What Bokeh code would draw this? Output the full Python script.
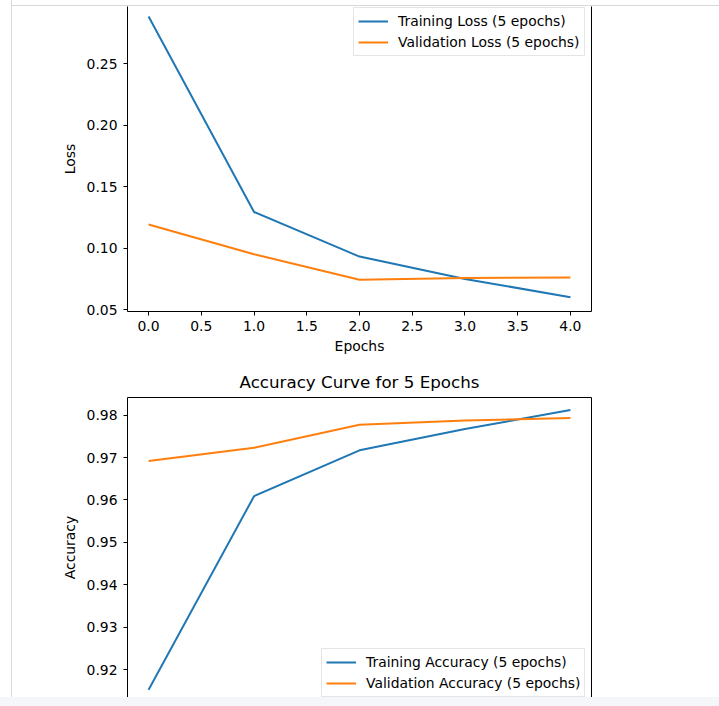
from bokeh.plotting import figure
from bokeh.models import LinearAxis, FixedTicker, PrintfTickFormatter, Legend, LegendItem, Range1d, Div
from bokeh.layouts import column, row
from bokeh.embed import file_html
from bokeh.resources import INLINE

epochs = [0, 1, 2, 3, 4]
train_loss = [0.2885, 0.1295, 0.0933, 0.0751, 0.0603]
val_loss = [0.1194, 0.0952, 0.0745, 0.0759, 0.0763]
train_acc = [0.9153, 0.9609, 0.9717, 0.9767, 0.9812]
val_acc = [0.9692, 0.9723, 0.9777, 0.9787, 0.9793]
x_ticks = [0.0, 0.5, 1.0, 1.5, 2.0, 2.5, 3.0, 3.5, 4.0]
loss_ticks = [0.05, 0.10, 0.15, 0.20, 0.25]
acc_ticks = [0.92, 0.93, 0.94, 0.95, 0.96, 0.97, 0.98]

BLUE = "#1f77b4"
ORANGE = "#ff7f0e"
FONT = "DejaVu Sans"
TICK_FS = "13.9px"
EDGE = "#d8d8d8"


def style_axis(ax):
    ax.axis_line_color = "black"
    ax.axis_line_width = 1
    ax.minor_tick_line_color = None
    ax.major_tick_line_color = "black"
    ax.major_tick_out = 4
    ax.major_tick_in = 0
    ax.major_label_text_font = FONT
    ax.major_label_text_font_size = TICK_FS
    ax.major_label_text_color = "black"
    ax.axis_label_text_font = FONT
    ax.axis_label_text_font_style = "normal"
    ax.axis_label_text_font_size = TICK_FS
    ax.axis_label_text_color = "black"


def spine_axis():
    ax = LinearAxis(ticker=FixedTicker(ticks=[]))
    ax.axis_line_color = "black"
    ax.axis_line_width = 1
    ax.major_tick_line_color = None
    ax.minor_tick_line_color = None
    ax.major_tick_out = 0
    ax.major_tick_in = 0
    ax.major_label_standoff = 0
    return ax


def style_legend(lg):
    lg.label_text_font = FONT
    lg.label_text_font_size = TICK_FS
    lg.label_text_color = "black"
    lg.glyph_width = 30
    lg.glyph_height = 18
    lg.label_height = 18
    lg.label_standoff = 10
    lg.spacing = 3
    lg.padding = 4
    lg.margin = 0
    lg.border_line_color = "#cccccc"
    lg.border_line_width = 1
    lg.background_fill_alpha = 0.8


# ---------------- Loss figure ----------------
p1 = figure(width=707, height=353, output_backend="svg", toolbar_location=None,
            x_range=Range1d(-0.2, 4.2), y_range=Range1d(0.04863, 0.29659),
            min_border_left=115, min_border_right=128, min_border_top=0,
            min_border_bottom=48)
p1.outline_line_color = None
p1.xgrid.visible = False
p1.ygrid.visible = False

r1 = p1.line(epochs, train_loss, line_color=BLUE, line_width=2)
r2 = p1.line(epochs, val_loss, line_color=ORANGE, line_width=2)

p1.xaxis.ticker = FixedTicker(ticks=x_ticks)
p1.xaxis.formatter = PrintfTickFormatter(format="%.1f")
p1.yaxis.ticker = FixedTicker(ticks=loss_ticks)
p1.yaxis.formatter = PrintfTickFormatter(format="%.2f")
p1.xaxis.axis_label = "Epochs"
p1.yaxis.axis_label = "Loss"
for ax in p1.xaxis + p1.yaxis:
    style_axis(ax)
p1.xaxis.major_label_standoff = 5
p1.xaxis.axis_label_standoff = 4
p1.yaxis.major_label_standoff = 6
p1.yaxis.axis_label_standoff = 6
p1.add_layout(spine_axis(), "right")

lg1 = Legend(items=[LegendItem(label="Training Loss (5 epochs)", renderers=[r1]),
                    LegendItem(label="Validation Loss (5 epochs)", renderers=[r2])],
             location=(226, 255))
style_legend(lg1)
p1.add_layout(lg1, "center")

# ---------------- Accuracy figure ----------------
p2 = figure(width=707, height=338, output_backend="svg", toolbar_location=None,
            x_range=Range1d(-0.2, 4.2), y_range=Range1d(0.91348, 0.98414),
            min_border_left=115, min_border_right=128, min_border_top=38,
            min_border_bottom=0, title="Accuracy Curve for 5 Epochs",
            x_axis_location=None)
p2.outline_line_color = None
p2.xgrid.visible = False
p2.ygrid.visible = False
p2.title.text_font = FONT
p2.title.text_font_style = "normal"
p2.title.text_font_size = "16.7px"
p2.title.text_color = "black"
p2.title.align = "center"
p2.title.standoff = 12

r3 = p2.line(epochs, train_acc, line_color=BLUE, line_width=2)
r4 = p2.line(epochs, val_acc, line_color=ORANGE, line_width=2)

p2.yaxis.ticker = FixedTicker(ticks=acc_ticks)
p2.yaxis.formatter = PrintfTickFormatter(format="%.2f")
p2.yaxis.axis_label = "Accuracy"
for ax in p2.yaxis:
    style_axis(ax)
p2.yaxis.major_label_standoff = 6
p2.yaxis.axis_label_standoff = 6
p2.add_layout(spine_axis(), "right")
p2.add_layout(spine_axis(), "above")

lg2 = Legend(items=[LegendItem(label="Training Accuracy (5 epochs)", renderers=[r3]),
                    LegendItem(label="Validation Accuracy (5 epochs)", renderers=[r4])],
             location=(194, 0))
style_legend(lg2)
p2.add_layout(lg2, "center")

# page frame (light edges of the original screenshot)
gap_left = Div(text="", width=11, height=697, margin=0)
edge_left = Div(text="", width=1, height=697, margin=0,
                styles={"background-color": EDGE})
gap_top = Div(text="", width=707, height=5, margin=0)
edge_top = Div(text="", width=707, height=1, margin=0,
               styles={"background-color": EDGE})
band = Div(text="", width=719, height=9, margin=0,
           styles={"background-color": "#f4f6f9"})

plots = column(gap_top, edge_top, p1, p2, spacing=0)
layout = column(row(gap_left, edge_left, plots, spacing=0), band, spacing=0)
open("out.html", "w").write(file_html(layout, INLINE))
